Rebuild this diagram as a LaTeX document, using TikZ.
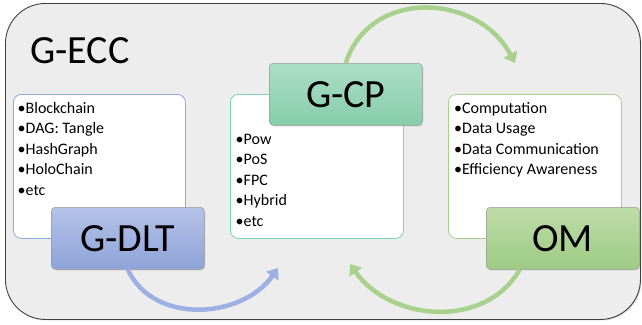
\documentclass[tikz,border=0pt]{standalone}
\usepackage{fontspec}
\setmainfont{Carlito}
\usetikzlibrary{arrows.meta,shadows,calc}

\definecolor{eccfill}{HTML}{EDEDED}
\definecolor{eccline}{HTML}{404040}
\definecolor{dltline}{HTML}{8EA9DB}
\definecolor{cpline}{HTML}{7ED3B2}
\definecolor{omline}{HTML}{A9D08E}
\definecolor{dlttop}{HTML}{B4C2E7}
\definecolor{dltbot}{HTML}{8EA3D9}
\definecolor{cptop}{HTML}{AADEC6}
\definecolor{cpbot}{HTML}{88CDAB}
\definecolor{omtop}{HTML}{BEDCA9}
\definecolor{ombot}{HTML}{9DCB83}
\definecolor{greenflow}{HTML}{A9D18E}
\definecolor{blueflow}{HTML}{9DB0E3}

\begin{document}
\begin{tikzpicture}[x=1pt,y=-1pt,
  panel/.style={draw, fill=white, rounded corners=8pt, line width=0.8pt,
    minimum width=173pt, minimum height=144pt, anchor=north west, inner sep=0pt},
  tag/.style={draw=black!40, line width=0.5pt, rounded corners=4pt,
    minimum width=153pt, minimum height=62pt, anchor=north west,
    font=\fontsize{40}{40}\selectfont,
    drop shadow={shadow xshift=1pt, shadow yshift=-1.2pt, opacity=0.25}},
  item/.style={anchor=base west, inner sep=0pt, font=\fontsize{16}{18}\selectfont},
  flow/.style={line width=4.5pt, -{Triangle[length=10pt,width=15pt]}}
]
\useasboundingbox (0,0) rectangle (642,324);

% outer frame
\node[draw=eccline, fill=eccfill, line width=0.9pt, rounded corners=40pt,
  minimum width=635pt, minimum height=316pt, anchor=north west, inner sep=0pt,
  drop shadow={shadow xshift=1pt, shadow yshift=-1pt, opacity=0.3}] (ecc) at (5,3) {};
\node[anchor=base west, inner sep=0pt, font=\fontsize{40}{40}\selectfont] (title) at (30,63) {G-ECC};

% list panels
\node[panel, draw=dltline, minimum width=172pt] (dltbox) at (13,94) {};
\node[panel, draw=cpline] (cpbox) at (230,94) {};
\node[panel, draw=omline] (ombox) at (448,94) {};

\foreach \t [count=\i] in {Blockchain, DAG: Tangle, HashGraph, HoloChain, etc}
  \node[item] (dltitem\i) at (17.5,113.3+20.5*\i-20.5) {•\t};
\foreach \t [count=\i] in {Pow, PoS, FPC, Hybrid, etc}
  \node[item] (cpitem\i) at (235.5,144+20.5*\i-20.5) {•\t};
\foreach \t [count=\i] in {Computation, Data Usage, Data Communication, Efficiency Awareness}
  \node[item] (omitem\i) at (454,113.3+20.5*\i-20.5) {•\t};

% title tags
\node[tag, top color=dlttop, bottom color=dltbot] (dlt) at (51,207) {G-DLT};
\node[tag, top color=cptop, bottom color=cpbot] (cp) at (269,63) {G-CP};
\node[tag, top color=omtop, bottom color=ombot] (om) at (486,207) {OM};

% cycle arrows
\coordinate (cpin) at (278,268);
\coordinate (omin) at (515,63);
\coordinate (dltin) at (350,264);
\coordinate (omout) at ($(om.south west)!0.22!(om.south east)$);
\draw[flow, greenflow] (cp.north) to[out=72, in=118, looseness=1.2] (omin);
\draw[flow, blueflow] (dlt.south) to[out=-65, in=-125, looseness=1.05] (cpin);
\draw[flow, greenflow] (omout) to[out=-120, in=-55, looseness=1.05] (dltin);
\end{tikzpicture}
\end{document}
